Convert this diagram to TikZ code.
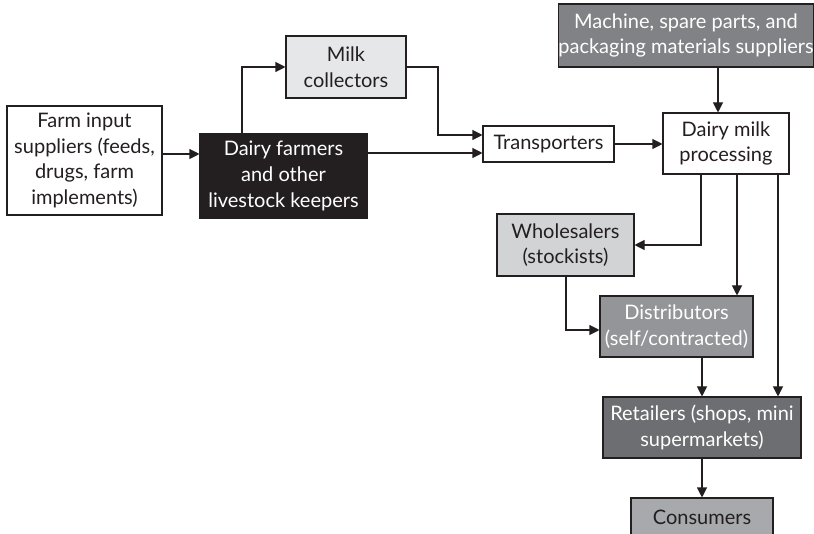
\documentclass[tikz,border=0pt]{standalone}
\usepackage{fontspec}
\setmainfont{Lato}
\usetikzlibrary{arrows.meta}
\definecolor{ink}{HTML}{231F20}
\definecolor{pale}{HTML}{E6E7E8}
\definecolor{light}{HTML}{D1D3D4}
\definecolor{mid}{HTML}{A7A9AC}
\definecolor{steel}{HTML}{808285}
\definecolor{slate}{HTML}{939598}
\definecolor{dark}{HTML}{6D6E71}
\tikzset{
  box/.style={draw=ink, line width=0.8pt, inner sep=0pt, align=center,
    font=\fontsize{15}{19.2}\selectfont, text=ink},
  lighttext/.style={text=white},
  arr/.style={draw=ink, line width=0.8pt, -{Triangle[length=7.5pt,width=7.5pt]}},
}
\begin{document}
\begin{tikzpicture}[x=0.75pt, y=-0.75pt]
  \useasboundingbox (0,0) rectangle (814,534);
  \clip (0,0) rectangle (814,534);

  % boxes
  \node[box, fill=white, minimum width=155*0.75pt, minimum height=109*0.75pt]
    (farm) at (84.5,160.5) {Farm input\\suppliers (feeds,\\drugs, farm\\implements)};
  \node[box, fill=ink, lighttext, minimum width=167*0.75pt, minimum height=84*0.75pt]
    (dairy) at (283.5,176) {Dairy farmers\\and other\\livestock keepers};
  \node[box, fill=pale, minimum width=120*0.75pt, minimum height=62*0.75pt]
    (milk) at (346,67) {Milk\\collectors};
  \node[box, fill=white, minimum width=131*0.75pt, minimum height=36*0.75pt]
    (trans) at (548.5,144) {Transporters};
  \node[box, fill=white, minimum width=126*0.75pt, minimum height=61*0.75pt]
    (proc) at (726,143.5) {Dairy milk\\processing};
  \node[box, fill=steel, lighttext, minimum width=254*0.75pt, minimum height=63*0.75pt]
    (mach) at (686,35.5) {Machine, spare parts, and\\packaging materials suppliers};
  \node[box, fill=light, minimum width=137*0.75pt, minimum height=62*0.75pt]
    (whole) at (565.5,245) {Wholesalers\\(stockists)};
  \node[box, fill=slate, lighttext, minimum width=153*0.75pt, minimum height=61*0.75pt]
    (dist) at (676.5,326.5) {Distributors\\(self/contracted)};
  \node[box, fill=dark, lighttext, minimum width=198*0.75pt, minimum height=61*0.75pt]
    (ret) at (702,427.5) {Retailers (shops, mini\\supermarkets)};
  \node[box, fill=mid, minimum width=142*0.75pt, minimum height=38*0.75pt]
    (cons) at (702,517) {Consumers};

  % connectors
  \draw[arr] (farm.east |- 0,154) -- (dairy.west |- 0,154);
  \draw[arr] (dairy.north -| 242,0) |- (milk.west);
  \draw[arr] (milk.east) -| (438,101) |- (trans.west |- 0,135);
  \draw[arr] (dairy.east |- 0,153) -- (trans.west |- 0,153);
  \draw[arr] (trans.east) -- (proc.west |- trans.east);
  \draw[arr] (mach.south -| 718,0) -- (proc.north -| 718,0);
  \draw[arr] (proc.south -| 701,0) |- (whole.east);
  \draw[arr] (proc.south -| 737,0) -- (dist.north -| 737,0);
  \draw[arr] (proc.south -| 778,0) -- (ret.north -| 778,0);
  \draw[arr] (whole.south -| 566,0) |- (dist.west |- 0,330);
  \draw[arr] (dist.south -| 702,0) -- (ret.north -| 702,0);
  \draw[arr] (ret.south) -- (cons.north);
\end{tikzpicture}
\end{document}
